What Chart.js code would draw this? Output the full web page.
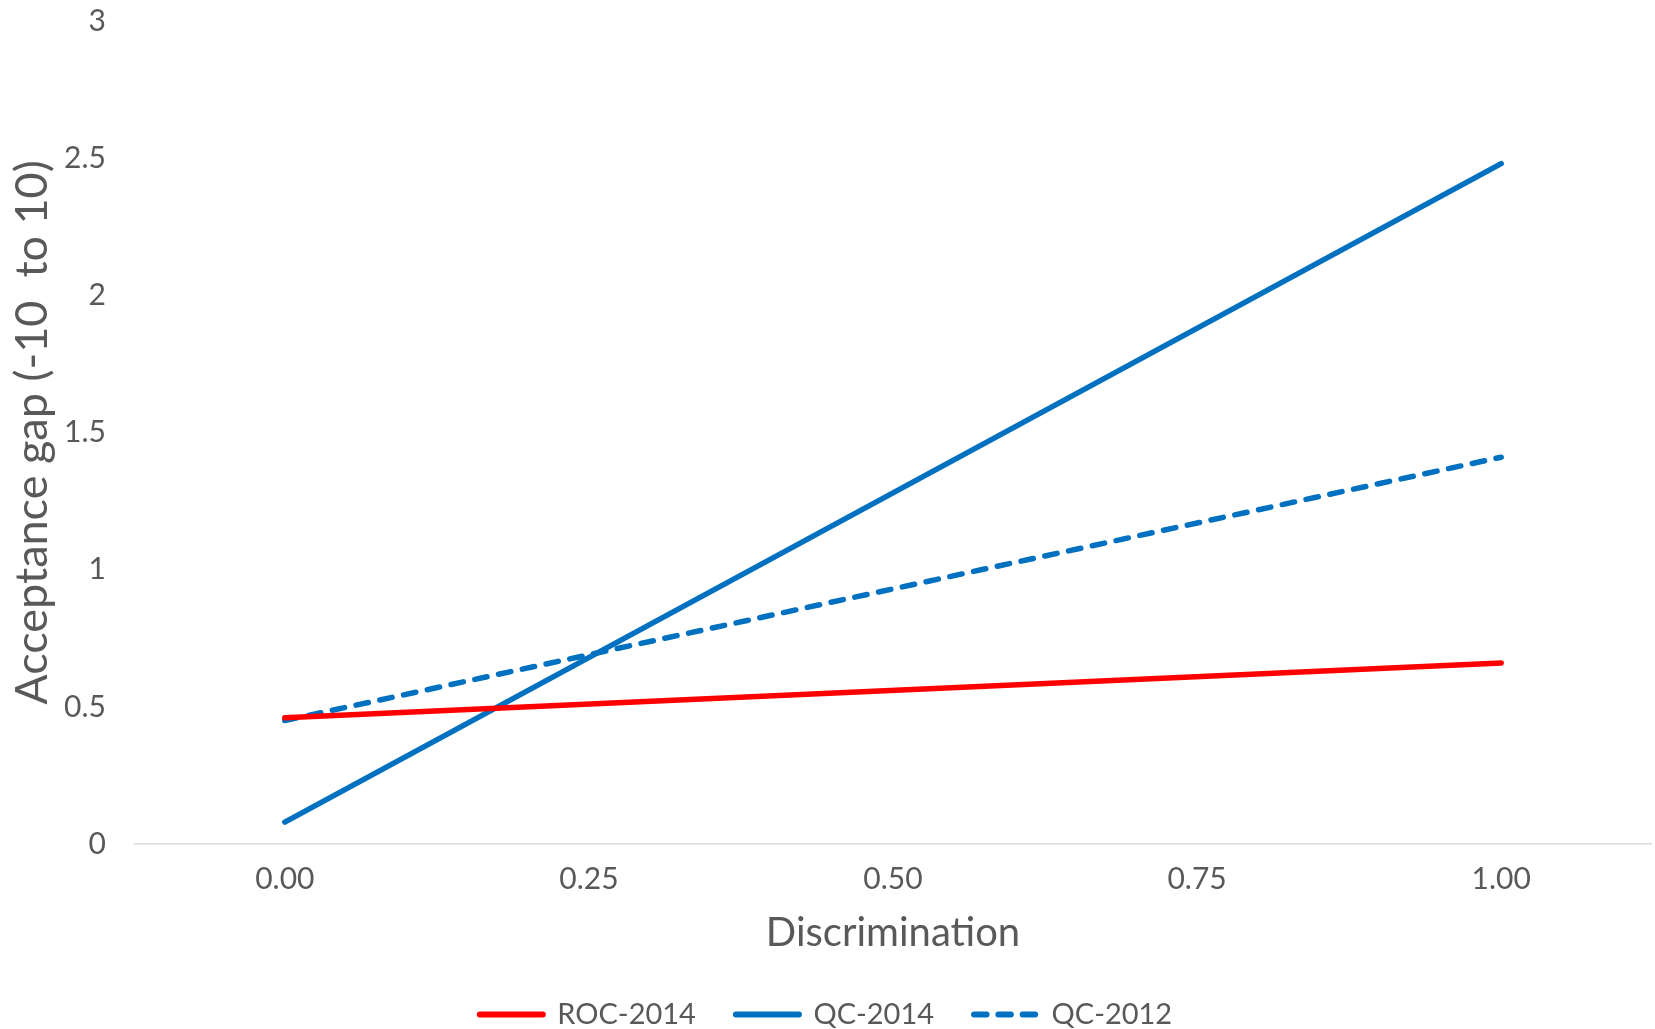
<!DOCTYPE html>
<html>
<head>
<meta charset="utf-8">
<script src="https://cdn.jsdelivr.net/npm/chart.js@4"></script>
<style>
  html, body { margin: 0; padding: 0; background: #ffffff; overflow: hidden; }
  #wrap { width: 1655px; height: 1029px; }
</style>
</head>
<body>
<div id="wrap"><canvas id="chart" width="1655" height="1029"></canvas></div>
<script>
// Discrimination level (x) at each end of the fitted lines
const discrimination = [0, 1];

// Acceptance gap at each discrimination level
const roc2014 = [0.46, 0.66];
const qc2014 = [0.08, 2.48];
const qc2012 = [0.45, 1.41];

const seriesNames = ['ROC-2014', 'QC-2014', 'QC-2012'];

// Axis ticks
const xTickValues = [0, 0.25, 0.5, 0.75, 1];
const xTickLabels = ['0.00', '0.25', '0.50', '0.75', '1.00'];
const yTickValues = [0, 0.5, 1, 1.5, 2, 2.5, 3];
const yTickLabels = ['0', '0.5', '1', '1.5', '2', '2.5', '3'];

const FONT = 'Lato, "Noto Sans", sans-serif';
const TEXT = '#595959';
const LINE_W = 5.5;

function toPoints(ys) {
  return discrimination.map((x, i) => ({ x: x, y: ys[i] }));
}

function lineSeries(label, ys, color, dash) {
  return {
    label: label,
    data: toPoints(ys),
    showLine: true,
    borderColor: color,
    backgroundColor: color,
    borderWidth: LINE_W,
    borderCapStyle: 'round',
    borderDash: dash || [],
    pointRadius: 0,
    pointHoverRadius: 0
  };
}

const ctx = document.getElementById('chart').getContext('2d');
new Chart(ctx, {
  type: 'scatter',
  data: {
    datasets: [
      lineSeries(seriesNames[0], roc2014, '#FF0000'),
      lineSeries(seriesNames[1], qc2014, '#0070C0'),
      lineSeries(seriesNames[2], qc2012, '#0070C0', [12.5, 11.8])
    ]
  },
  options: {
    responsive: false,
    animation: false,
    devicePixelRatio: 1,
    layout: { padding: { top: 0, right: 3, left: 0, bottom: -10 } },
    plugins: {
      tooltip: { enabled: false },
      legend: {
        position: 'bottom',
        labels: {
          usePointStyle: true,
          pointStyle: 'line',
          pointStyleWidth: 63,
          boxHeight: 5,
          padding: 40,
          color: TEXT,
          font: { family: FONT, size: 29 },
          generateLabels(chart) {
            return chart.data.datasets.map((ds, i) => ({
              text: ds.label,
              datasetIndex: i,
              fillStyle: ds.borderColor,
              strokeStyle: ds.borderColor,
              lineWidth: 6,
              lineDash: ds.borderDash || [],
              lineCap: 'round',
              pointStyle: 'line',
              fontColor: TEXT,
              hidden: false
            }));
          }
        }
      }
    },
    scales: {
      x: {
        type: 'linear',
        min: -0.124,
        max: 1.124,
        afterBuildTicks(scale) {
          scale.ticks = xTickValues.map(v => ({ value: v }));
        },
        afterFit(scale) { scale.height = 116; },
        ticks: {
          color: TEXT,
          font: { family: FONT, size: 30 },
          padding: 17,
          maxRotation: 0,
          callback(value) {
            const i = xTickValues.indexOf(value);
            return i >= 0 ? xTickLabels[i] : '';
          }
        },
        grid: { display: false, drawTicks: false },
        border: { display: false },
        title: {
          display: true,
          text: 'Discrimination',
          color: TEXT,
          font: { family: FONT, size: 40 },
          padding: { top: 0, bottom: 3 }
        }
      },
      y: {
        type: 'linear',
        min: 0,
        max: 3,
        afterBuildTicks(scale) {
          scale.ticks = yTickValues.map(v => ({ value: v }));
        },
        afterFit(scale) { scale.width = 134; },
        ticks: {
          color: TEXT,
          font: { family: FONT, size: 30 },
          padding: 3,
          callback(value) {
            const i = yTickValues.indexOf(value);
            return i >= 0 ? yTickLabels[i] : '';
          }
        },
        grid: {
          drawTicks: true,
          tickLength: 25,
          tickColor: 'rgba(0,0,0,0)',
          lineWidth: 1.5,
          color(c) { return c.tick && c.tick.value === 0 ? '#D9D9D9' : 'rgba(0,0,0,0)'; }
        },
        border: { display: false },
        title: {
          display: true,
          text: 'Acceptance gap (-10  to 10)',
          color: TEXT,
          font: { family: FONT, size: 45 },
          padding: { top: 5, bottom: 0 }
        }
      }
    }
  }
});
</script>
</body>
</html>
